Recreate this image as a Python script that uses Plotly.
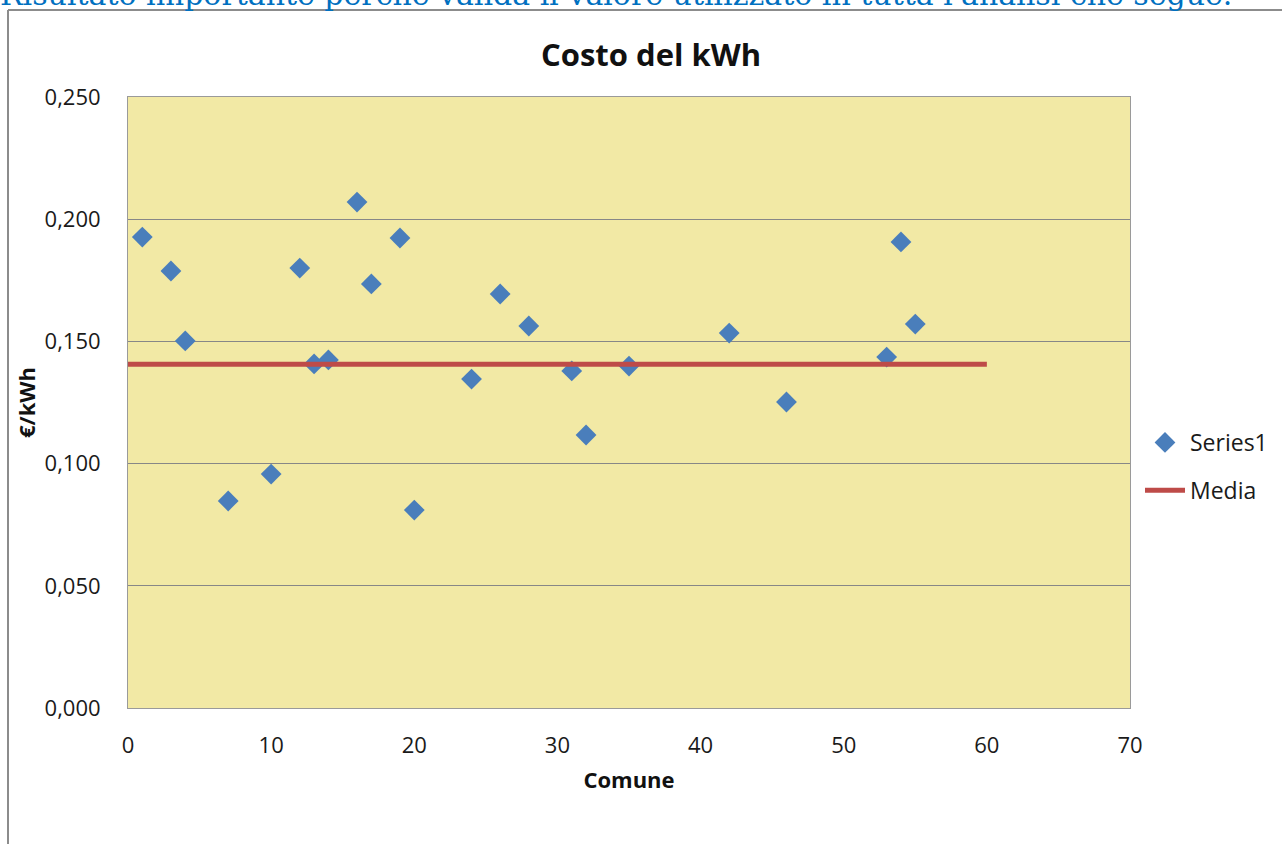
import plotly.graph_objects as go

# Costo del kWh per comune
comune = [1, 3, 4, 7, 10, 12, 13, 14, 16, 17, 19, 20, 24, 26, 28, 31, 32, 35, 42, 46, 53, 54, 55]
costo_kwh = [0.1927, 0.1788, 0.1502, 0.0847, 0.0957, 0.1800, 0.1408, 0.1424, 0.2070,
             0.1735, 0.1923, 0.0810, 0.1346, 0.1694, 0.1563, 0.1379, 0.1117, 0.1399,
             0.1534, 0.1252, 0.1436, 0.1907, 0.1571]

# Media (valore di riferimento) tracciata da 0 a 60
media_x = [0, 60]
media_y = [0.1407, 0.1407]

y_ticks = [0.0, 0.05, 0.10, 0.15, 0.20, 0.25]
x_ticks = [0, 10, 20, 30, 40, 50, 60, 70]

W, H = 1282, 844
ML, MR, MT, MB = 128, 152, 97, 136
PW, PH = W - ML - MR, H - MT - MB


def px_x(p):
    return (p - ML) / PW


def px_y(p):
    return (H - MB - p) / PH


FONT = "Open Sans"

fig = go.Figure()
fig.add_trace(go.Scatter(
    x=comune, y=costo_kwh, mode="markers", name="Series1",
    marker=dict(symbol="diamond", size=16, color="#4a7ebb",
                line=dict(width=0)),
    legendgroup="a",
))
fig.add_trace(go.Scatter(
    x=media_x, y=media_y, mode="lines", name="Media",
    line=dict(color="#be4b48", width=5),
    legendgroup="b",
))

fig.update_layout(
    width=W, height=H,
    margin=dict(l=ML, r=MR, t=MT, b=MB, pad=0, autoexpand=False),
    paper_bgcolor="white",
    plot_bgcolor="#f2e9a5",
    separators=", ",
    font=dict(family=FONT, color="#1a1a1a", size=22),
    title=dict(text="<b>Costo del kWh</b>", x=px_x(651), xref="paper",
               xanchor="center", y=1 - 55 / H, yanchor="middle",
               font=dict(family=FONT, size=31, color="#111111")),
    showlegend=True,
    legend=dict(x=px_x(1140), xanchor="left", y=px_y(421), yanchor="top",
                bgcolor="rgba(0,0,0,0)", traceorder="grouped",
                tracegroupgap=15, itemwidth=40,
                font=dict(family=FONT, size=23, color="#1a1a1a")),
    xaxis=dict(range=[0, 70], tickvals=x_ticks, showgrid=False, zeroline=False,
               showline=True, linecolor="#9a9a9a", linewidth=1, mirror=True,
               ticks="outside", ticklen=18, tickcolor="rgba(0,0,0,0)",
               tickfont=dict(family=FONT, size=22),
               title=dict(text="<b>Comune</b>", standoff=14,
                          font=dict(family=FONT, size=22, color="#111111"))),
    yaxis=dict(range=[0, 0.25], tickvals=y_ticks, tickformat=".3f",
               showgrid=True, gridcolor="#878787", gridwidth=1, zeroline=False,
               showline=True, linecolor="#9a9a9a", linewidth=1, mirror=True,
               ticks="outside", ticklen=22, tickcolor="rgba(0,0,0,0)",
               tickfont=dict(family=FONT, size=22),
               title=dict(text="<b>€/kWh</b>", standoff=2,
                          font=dict(family=FONT, size=22, color="#111111"))),
)

# Cornice del grafico
fig.add_shape(type="line", xref="paper", yref="paper",
              x0=px_x(8), x1=px_x(8), y0=px_y(10), y1=px_y(H + 5),
              line=dict(color="#8c8c8c", width=2))
fig.add_shape(type="line", xref="paper", yref="paper",
              x0=px_x(8), x1=px_x(W + 5), y0=px_y(10), y1=px_y(10),
              line=dict(color="#8c8c8c", width=2))

# Riga di testo del documento sopra il grafico
fig.add_annotation(
    text="Risultato importante perché valida il valore utilizzato in tutta l'analisi che segue.",
    xref="paper", yref="paper", x=px_x(-2), y=px_y(-6), xanchor="left", yanchor="middle",
    showarrow=False, font=dict(family="DejaVu Serif", size=30, color="#0070c0"),
)

fig.write_html("out.html")
